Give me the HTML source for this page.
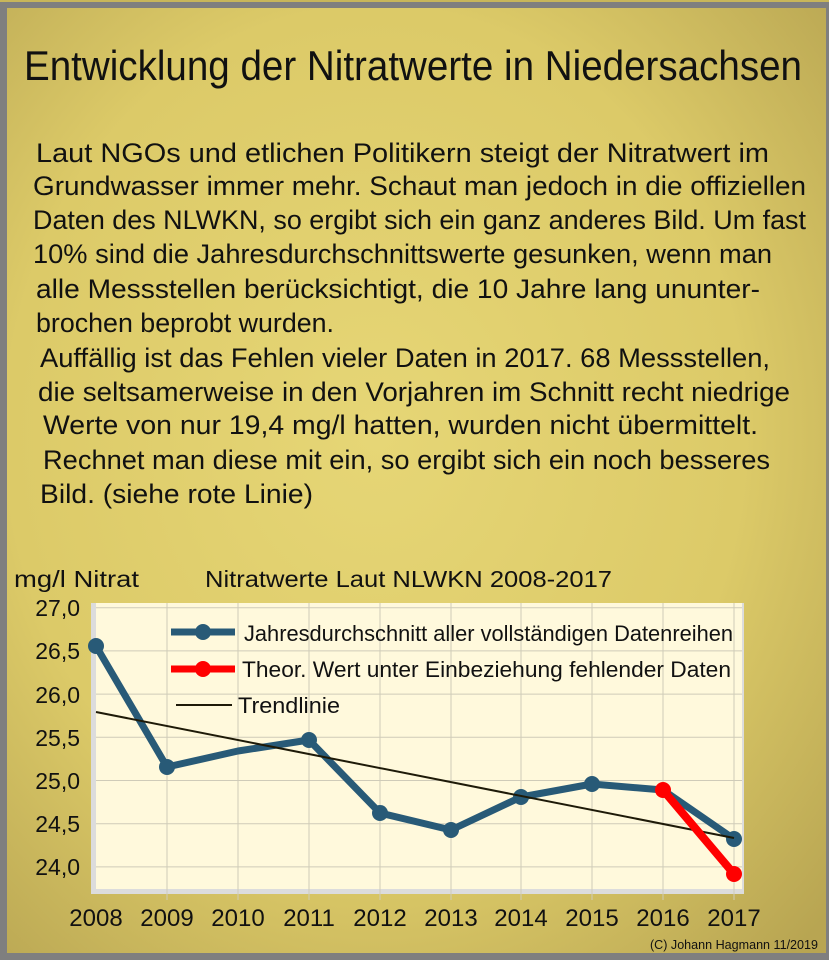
<!DOCTYPE html>
<html><head><meta charset="utf-8"><style>
html,body{margin:0;padding:0;background:#808080}
svg{display:block}
text{font-family:"Liberation Sans",sans-serif;fill:#111}
</style></head><body>
<svg width="829" height="960" viewBox="0 0 829 960" xmlns="http://www.w3.org/2000/svg">
<defs>
<radialGradient id="bg" cx="0.45" cy="0.45" r="0.75">
<stop offset="0" stop-color="#e6d676"/>
<stop offset="0.6" stop-color="#dcca68"/>
<stop offset="1" stop-color="#b8a552"/>
</radialGradient>
</defs>
<rect width="829" height="960" fill="#7f7f7f"/>
<rect x="0" y="0" width="829" height="2" fill="#c8b65a"/>
<rect x="7" y="8" width="819" height="945" fill="url(#bg)"/>
<text x="24" y="80" font-size="42" textLength="778" lengthAdjust="spacingAndGlyphs">Entwicklung der Nitratwerte in Niedersachsen</text>
<g font-size="27">
<text x="36" y="162" textLength="733" lengthAdjust="spacingAndGlyphs">Laut NGOs und etlichen Politikern steigt der Nitratwert im</text>
<text x="33" y="195" textLength="773" lengthAdjust="spacingAndGlyphs">Grundwasser immer mehr.  Schaut man jedoch in die offiziellen</text>
<text x="33" y="229" textLength="773" lengthAdjust="spacingAndGlyphs">Daten des NLWKN, so ergibt sich ein ganz anderes Bild. Um fast</text>
<text x="33" y="263" textLength="739" lengthAdjust="spacingAndGlyphs">10% sind die Jahresdurchschnittswerte gesunken, wenn man</text>
<text x="36" y="298" textLength="724" lengthAdjust="spacingAndGlyphs">alle Messstellen berücksichtigt, die 10 Jahre lang ununter-</text>
<text x="36" y="332" textLength="298" lengthAdjust="spacingAndGlyphs">brochen beprobt wurden.</text>
<text x="40" y="367" textLength="730" lengthAdjust="spacingAndGlyphs">Auffällig ist das Fehlen vieler Daten in 2017. 68 Messstellen,</text>
<text x="38" y="401" textLength="752" lengthAdjust="spacingAndGlyphs">die seltsamerweise in den Vorjahren im Schnitt recht niedrige</text>
<text x="43" y="434" textLength="715" lengthAdjust="spacingAndGlyphs">Werte von nur 19,4 mg/l hatten, wurden nicht übermittelt.</text>
<text x="43" y="469" textLength="727" lengthAdjust="spacingAndGlyphs">Rechnet man diese mit ein, so ergibt sich ein noch besseres</text>
<text x="40" y="503" textLength="273" lengthAdjust="spacingAndGlyphs">Bild.  (siehe rote Linie)</text>
</g>
<text x="14" y="587" font-size="23" textLength="125" lengthAdjust="spacingAndGlyphs">mg/l Nitrat</text>
<text x="205" y="587" font-size="23" textLength="407" lengthAdjust="spacingAndGlyphs">Nitratwerte Laut NLWKN 2008-2017</text>
<rect x="91" y="603" width="653" height="291" fill="#dcdcdc"/>
<rect x="96" y="603" width="646" height="286" fill="#fff9dc"/>
<g stroke="#cfcbb8" stroke-width="1">
<line x1="96" y1="607.7" x2="742" y2="607.7"/><line x1="96" y1="650.9" x2="742" y2="650.9"/>
<line x1="96" y1="694.1" x2="742" y2="694.1"/><line x1="96" y1="737.3" x2="742" y2="737.3"/>
<line x1="96" y1="780.5" x2="742" y2="780.5"/><line x1="96" y1="823.7" x2="742" y2="823.7"/>
<line x1="96" y1="866.9" x2="742" y2="866.9"/>
<line x1="167" y1="603" x2="167" y2="900"/><line x1="238" y1="603" x2="238" y2="900"/>
<line x1="309" y1="603" x2="309" y2="900"/><line x1="380" y1="603" x2="380" y2="900"/>
<line x1="451" y1="603" x2="451" y2="900"/><line x1="521" y1="603" x2="521" y2="900"/>
<line x1="592" y1="603" x2="592" y2="900"/><line x1="663" y1="603" x2="663" y2="900"/>
<line x1="734" y1="603" x2="734" y2="900"/>
</g>
<g font-size="23" text-anchor="end">
<text x="80" y="616">27,0</text><text x="80" y="659">26,5</text><text x="80" y="703">26,0</text>
<text x="80" y="746">25,5</text><text x="80" y="789">25,0</text><text x="80" y="832">24,5</text><text x="80" y="875">24,0</text>
</g>
<g font-size="24" text-anchor="middle">
<text x="96" y="926">2008</text><text x="167" y="926">2009</text><text x="238" y="926">2010</text>
<text x="309" y="926">2011</text><text x="380" y="926">2012</text><text x="451" y="926">2013</text>
<text x="521" y="926">2014</text><text x="592" y="926">2015</text><text x="663" y="926">2016</text><text x="734" y="926">2017</text>
</g>
<polyline fill="none" stroke="#285a77" stroke-width="7" stroke-linejoin="round"
points="96,646 167,767 238,751 309,740 380,813 451,830 521,797 592,784 663,790 734,839"/>
<g fill="#285a77">
<circle cx="96" cy="646" r="8"/><circle cx="167" cy="767" r="8"/>
<circle cx="309" cy="740" r="8"/><circle cx="380" cy="813" r="8"/><circle cx="451" cy="830" r="8"/>
<circle cx="521" cy="797" r="8"/><circle cx="592" cy="784" r="8"/><circle cx="734" cy="839" r="8"/>
</g>
<line x1="96" y1="712" x2="734" y2="838" stroke="#1e1a08" stroke-width="2"/>
<line x1="663" y1="790" x2="734" y2="874" stroke="#ff0000" stroke-width="8" stroke-linecap="round"/>
<circle cx="663" cy="790" r="8" fill="#ff0000"/><circle cx="734" cy="874" r="8" fill="#ff0000"/>
<line x1="171" y1="632" x2="235" y2="632" stroke="#285a77" stroke-width="7"/><circle cx="203" cy="632" r="8" fill="#285a77"/>
<line x1="171" y1="669" x2="235" y2="669" stroke="#ff0000" stroke-width="7"/><circle cx="203" cy="669" r="8" fill="#ff0000"/>
<line x1="176" y1="705" x2="232" y2="705" stroke="#1e1a08" stroke-width="2"/>
<g font-size="22">
<text x="244" y="641" textLength="489" lengthAdjust="spacingAndGlyphs">Jahresdurchschnitt aller vollständigen Datenreihen</text>
<text x="242" y="677" textLength="489" lengthAdjust="spacingAndGlyphs">Theor. Wert unter Einbeziehung fehlender Daten</text>
<text x="238" y="713" textLength="102" lengthAdjust="spacingAndGlyphs">Trendlinie</text>
</g>
<text x="650" y="949" font-size="13" textLength="168" lengthAdjust="spacingAndGlyphs">(C) Johann Hagmann 11/2019</text>
</svg>
</body></html>
